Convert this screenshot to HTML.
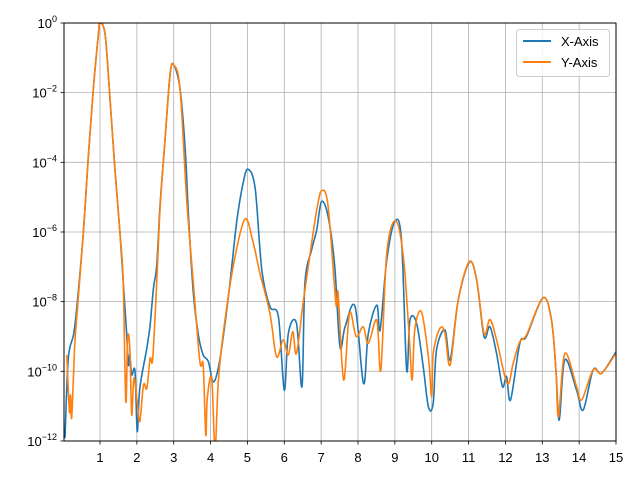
<!DOCTYPE html>
<html><head><meta charset="utf-8"><style>
html,body{margin:0;padding:0;background:#fff}
svg{display:block;font-family:"Liberation Sans","DejaVu Sans",sans-serif}
</style></head><body>
<svg id="chart" width="640" height="480">
<defs><clipPath id="clip"><rect x="64" y="23" width="552" height="418"/></clipPath></defs>
<rect width="640" height="480" fill="#fff"/>
<g id="grid"></g>
<g id="series" clip-path="url(#clip)"></g>
<rect x="64" y="23" width="552" height="418" fill="none" stroke="#000" stroke-width="1"/>
<g id="ticks"></g>
<g>
<rect x="516.5" y="29.5" width="93" height="47" rx="3" fill="#fff" fill-opacity="0.8" stroke="#ccc"/>
<line x1="523" y1="41" x2="551" y2="41" stroke="#1f77b4" stroke-width="2"/>
<text x="561" y="46" font-size="13">X-Axis</text>
<line x1="523" y1="62" x2="551" y2="62" stroke="#ff7f0e" stroke-width="2"/>
<text x="561" y="67" font-size="13">Y-Axis</text>
</g>
</svg>
<script>
const xTicks=[1,2,3,4,5,6,7,8,9,10,11,12,13,14,15];
const yTickExps=[0,-2,-4,-6,-8,-10,-12];
const blueX=[0.05,0.14,0.28,0.37,0.55,0.68,0.82,0.955,1.0,1.14,1.27,1.41,1.54,1.63,1.72,1.77,1.81,1.86,1.95,2.01,2.08,2.27,2.36,2.45,2.54,2.63,2.76,2.90,3.0,3.17,3.31,3.40,3.53,3.67,3.80,3.94,4.07,4.21,4.35,4.53,4.71,4.89,5.02,5.21,5.39,5.61,5.84,6.0,6.11,6.33,6.48,6.56,6.74,6.88,7.01,7.19,7.37,7.51,7.65,7.92,8.15,8.28,8.51,8.60,8.78,9.0,9.18,9.32,9.41,9.59,9.77,9.91,10.04,10.13,10.36,10.50,10.72,11.02,11.22,11.42,11.58,11.76,11.92,12.03,12.14,12.39,12.57,13.02,13.25,13.37,13.46,13.61,13.93,14.11,14.38,14.61,14.97,15.0];
const blueLog=[-11.92,-9.63,-8.96,-8.19,-5.99,-3.89,-1.88,-0.34,0,-0.34,-2.16,-4.27,-5.99,-7.43,-8.86,-9.82,-9.53,-10.1,-10.0,-11.73,-10.49,-9.34,-8.67,-7.62,-6.95,-5.23,-3.41,-1.49,-1.2,-1.88,-3.6,-5.51,-7.72,-8.96,-9.53,-9.72,-10.3,-9.91,-8.96,-7.43,-5.70,-4.56,-4.2,-4.75,-7.09,-8.14,-8.43,-10.54,-8.91,-8.62,-10.44,-7.47,-6.52,-5.94,-5.13,-5.56,-7.0,-9.29,-8.72,-8.14,-10.35,-8.91,-8.1,-8.81,-6.81,-5.70,-6.23,-9.96,-8.53,-8.62,-9.87,-11.02,-10.92,-9.39,-8.81,-9.67,-7.95,-6.87,-7.38,-9.0,-8.72,-9.49,-10.44,-10.15,-10.82,-9.2,-9.0,-7.89,-8.53,-9.96,-11.4,-9.67,-10.54,-11.11,-9.96,-10.06,-9.49,-9.45];
const orangeX=[0.10,0.17,0.20,0.23,0.28,0.32,0.41,0.55,0.68,0.82,0.955,1.0,1.14,1.27,1.41,1.54,1.63,1.70,1.75,1.81,1.86,1.92,2.01,2.08,2.18,2.27,2.36,2.43,2.54,2.63,2.76,2.90,3.0,3.17,3.35,3.53,3.71,3.80,3.87,3.91,4.03,4.12,4.21,4.35,4.62,4.93,5.15,5.34,5.61,5.79,5.97,6.11,6.23,6.33,6.51,6.65,6.88,7.02,7.19,7.40,7.46,7.61,7.77,7.95,8.14,8.28,8.51,8.62,8.78,9.02,9.23,9.39,9.47,9.54,9.72,9.91,10.0,10.04,10.22,10.36,10.50,10.72,11.02,11.22,11.42,11.58,11.76,12.05,12.21,12.39,12.57,13.02,13.25,13.37,13.44,13.61,13.93,14.07,14.38,14.61,14.97,15.0];
const orangeLog=[-9.53,-11.16,-10.68,-11.35,-10.15,-9.15,-7.9,-5.99,-3.89,-1.88,-0.34,0,-0.34,-2.16,-4.27,-5.99,-7.43,-10.87,-9.05,-9.34,-11.25,-10.2,-10.87,-11.44,-10.39,-10.49,-9.63,-9.63,-7.43,-5.32,-3.41,-1.49,-1.2,-1.88,-5.04,-7.43,-9.72,-9.82,-11.83,-10.78,-10.2,-12.2,-10.3,-8.86,-6.95,-5.63,-6.28,-7.19,-8.33,-9.58,-9.1,-9.53,-8.86,-9.49,-8.05,-7.0,-5.37,-4.81,-5.27,-8.05,-7.76,-10.25,-8.33,-9.0,-8.72,-9.2,-8.53,-9.96,-6.62,-5.68,-6.71,-9.0,-10.25,-8.81,-8.29,-9.58,-10.73,-9.49,-8.77,-8.91,-9.82,-7.95,-6.85,-7.38,-8.91,-8.51,-9.1,-10.35,-9.77,-9.15,-8.96,-7.89,-8.53,-9.96,-11.3,-9.49,-10.44,-10.82,-9.96,-10.06,-9.53,-9.5];

const X0=63.14,XS=36.857,Y0=23,YS=34.83;
const sx=v=>X0+v*XS, sy=l=>Y0-l*YS;
const NS="http://www.w3.org/2000/svg";
const grid=document.getElementById('grid'),ticks=document.getElementById('ticks'),series=document.getElementById('series');
function mk(tag,attrs,parent){const e=document.createElementNS(NS,tag);for(const k in attrs)e.setAttribute(k,attrs[k]);parent.appendChild(e);return e;}
xTicks.forEach(t=>{const x=sx(t);
 const g=mk('line',{x1:x,x2:x,y1:23,y2:441,stroke:'#b0b0b0','stroke-width':0.8},grid);
 
 
 const tk=mk('line',{x1:x,x2:x,y1:441,y2:444.5,stroke:'#000','stroke-width':0.8},ticks);
 
 
 const tx=mk('text',{x:x,y:462,'font-size':13,'text-anchor':'middle'},ticks);tx.textContent=t;
 
 
});
yTickExps.forEach(e=>{const y=sy(e);
 const g=mk('line',{x1:64,x2:616,y1:y,y2:y,stroke:'#b0b0b0','stroke-width':0.8},grid);
 
 
 const tk=mk('line',{x1:60.5,x2:64,y1:y,y2:y,stroke:'#000','stroke-width':0.8},ticks);
 
 
 const tx=mk('text',{x:57,y:y+5,'font-size':13,'text-anchor':'end'},ticks);
 
 
 const a=document.createElementNS(NS,'tspan');a.textContent='10';tx.appendChild(a);
 const b=document.createElementNS(NS,'tspan');b.setAttribute('dy','-6');b.setAttribute('font-size','9');b.textContent=String(e).replace('-','\u2212');tx.appendChild(b);
});
function path(xs,ls){const p=xs.map((v,i)=>[sx(v),sy(ls[i])]);let d='M'+p[0][0]+','+p[0][1];
 for(let i=0;i<p.length-1;i++){const p0=p[i-1]||p[i],p1=p[i],p2=p[i+1],p3=p[i+2]||p2;
  const c1=[p1[0]+(p2[0]-p0[0])/6,p1[1]+(p2[1]-p0[1])/6],c2=[p2[0]-(p3[0]-p1[0])/6,p2[1]-(p3[1]-p1[1])/6];
  d+=' C'+c1+' '+c2+' '+p2;}return d;}
const pb=mk('path',{d:path(blueX,blueLog),fill:'none',stroke:'#1f77b4','stroke-width':1.6,'stroke-linejoin':'round'},series);


const po=mk('path',{d:path(orangeX,orangeLog),fill:'none',stroke:'#ff7f0e','stroke-width':1.6,'stroke-linejoin':'round'},series);


</script>
</body></html>
